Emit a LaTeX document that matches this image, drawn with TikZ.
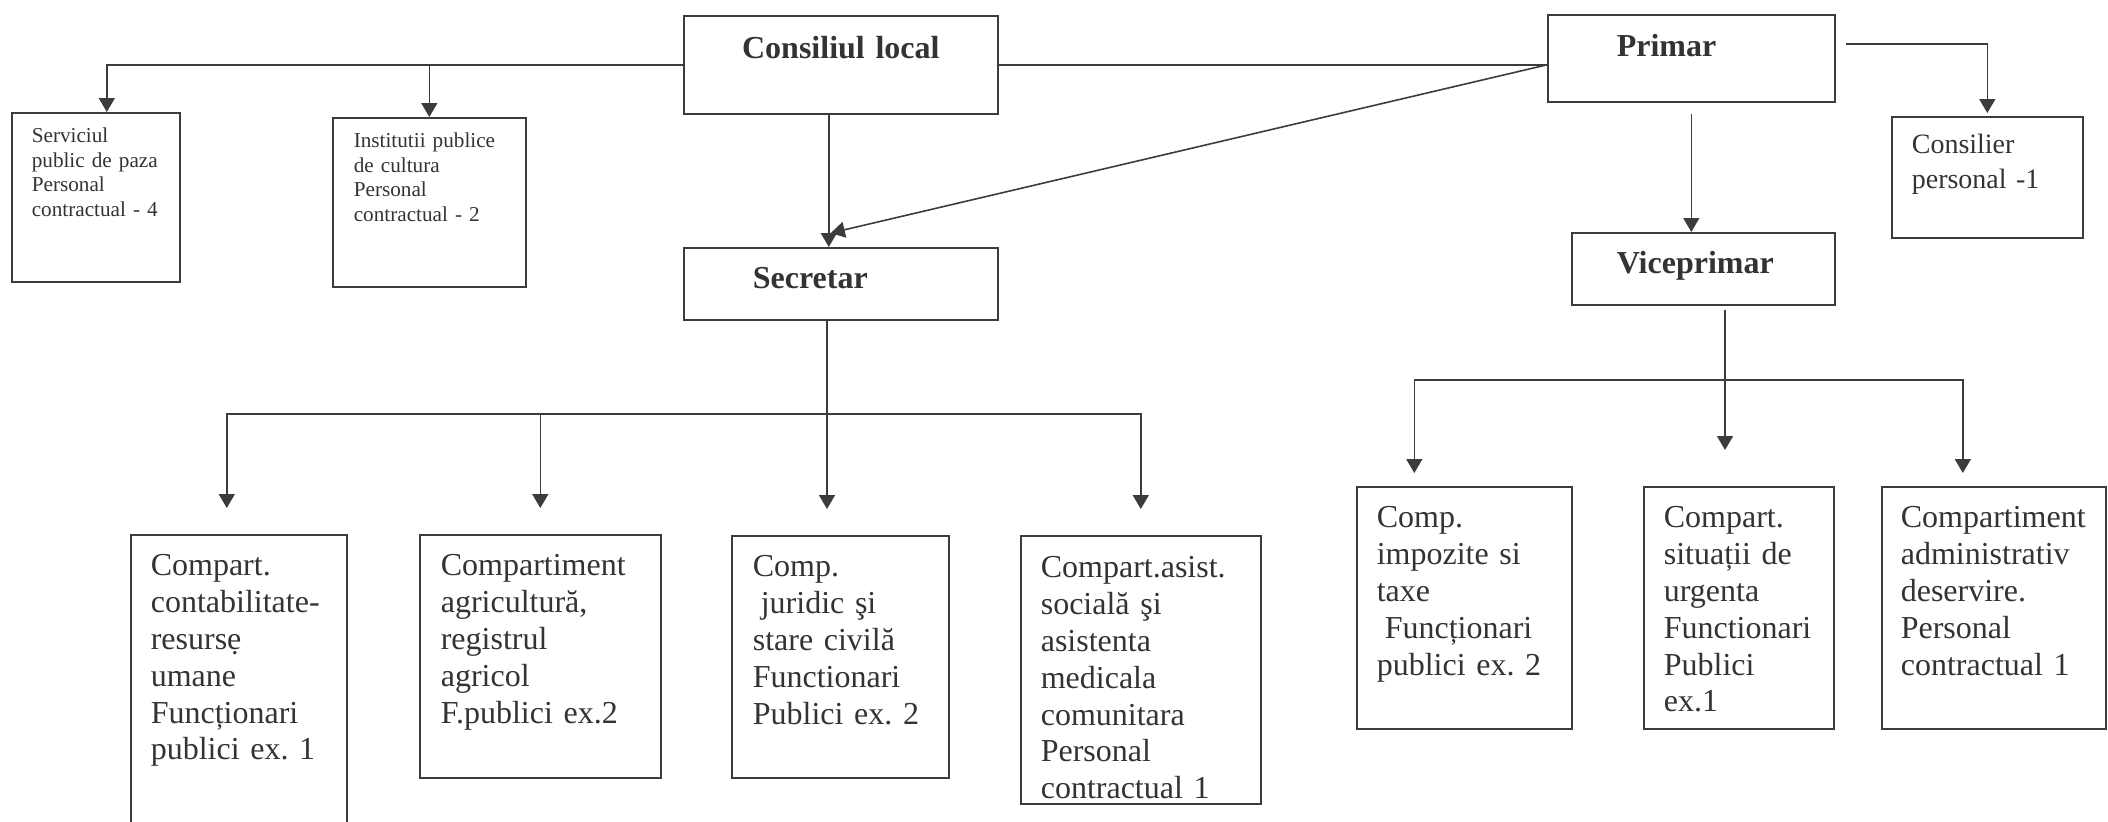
\documentclass[tikz,border=0pt]{standalone}
\usepackage{fontspec}
\setmainfont{Liberation Serif}
\usepackage{tikz}
\usetikzlibrary{arrows.meta}
\definecolor{linegray}{HTML}{3C3C3C}
\definecolor{textgray}{HTML}{333333}
\hyphenpenalty=10000
\exhyphenpenalty=10000
\frenchspacing

\begin{document}
\begin{tikzpicture}[
    x=0.5pt, y=-0.5pt,
    % boxes of the chart
    orgbox/.style={draw=linegray, line width=0.8pt, anchor=north west, align=left,
                   inner ysep=0pt, text=textgray},
    headbox/.style={orgbox, font=\bfseries\fontsize{16}{19}\selectfont},
    smallbox/.style={orgbox, font=\fontsize{10.6}{12.25}\selectfont},
    deptbox/.style={orgbox, font=\fontsize{16}{18.4}\selectfont},
    % connectors
    link/.style={draw=linegray, line width=0.8pt},
    arr/.style={link, -{Triangle[length=7pt, width=8pt]}}
    ]

    \useasboundingbox (0,0) rectangle (2108,821);
    \clip (0,0) rectangle (2108,821);

    % --- top level ---
    \node[headbox, align=center, inner xsep=5pt, text width=147pt,
          text height=21.5pt, text depth=27.5pt] (cons) at (683,15) {Consiliul local};
    \node[headbox, inner xsep=34.5pt, text width=74.5pt,
          text height=21pt, text depth=22.5pt] (prim) at (1547,14) {Primar};
    \node[headbox, inner xsep=34.5pt, text width=88pt,
          text height=20.5pt, text depth=15.5pt] (secr) at (683,247) {Secretar};
    \node[headbox, inner xsep=22.5pt, text width=86.5pt,
          text height=20.5pt, text depth=15.5pt] (vice) at (1571,232) {Viceprimar};

    \node[smallbox, inner xsep=10pt, text width=64pt,
          text height=15pt, text depth=69.5pt] (serv) at (11,112)
          {Serviciul\\public de paza\\Personal\\contractual - 4};
    \node[smallbox, inner xsep=10.5pt, text width=75.5pt,
          text height=15pt, text depth=69.5pt] (inst) at (332,117)
          {Institutii publice\\de cultura\\Personal\\contractual - 2};
    \node[orgbox, font=\fontsize{14}{17.5}\selectfont, inner xsep=10pt, text width=75.5pt,
          text height=18.5pt, text depth=42pt] (consil) at (1891,116)
          {Consilier\\personal -1};

    % --- compartments under the secretary ---
    \node[deptbox, inner xsep=10pt, text width=88pt,
          text height=20.5pt, text depth=142.5pt] (contab) at (130,534)
          {Compart.\\contabilitate-\\resursẹ\\umane\\Funcționari\\publici ex. 1};
    \node[deptbox, inner xsep=10.5pt, text width=99.5pt,
          text height=20.5pt, text depth=101pt] (agric) at (419,534)
          {Compartiment\\agricultură,\\registrul\\agricol\\F.publici ex.2};
    \node[deptbox, inner xsep=10.5pt, text width=87.5pt,
          text height=20.5pt, text depth=100.5pt] (jurid) at (731,535)
          {Comp.\\\hspace*{4pt}juridic şi\\stare civilă\\Functionari\\Publici ex. 2};
    \node[deptbox, inner xsep=10pt, text width=100pt,
          text height=21pt, text depth=113pt] (asist) at (1020,535)
          {Compart.asist.\\socială şi\\asistenta\\medicala\\comunitara\\Personal\\contractual 1};

    % --- compartments under the deputy mayor ---
    \node[deptbox, inner xsep=10pt, text width=87.5pt,
          text height=20.5pt, text depth=100.5pt] (impoz) at (1356,486)
          {Comp.\\impozite si\\taxe\\\hspace*{4pt}Funcționari\\publici ex. 2};
    \node[deptbox, inner xsep=10pt, text width=75pt,
          text height=20.5pt, text depth=100.5pt] (situ) at (1643,486)
          {Compart.\\situații de\\urgenta\\Functionari\\Publici\\ex.1};
    \node[deptbox, inner xsep=9.5pt, text width=93pt,
          text height=20.5pt, text depth=100.5pt] (admin) at (1881,486)
          {Compartiment\\administrativ\\deservire.\\Personal\\contractual 1};

    % --- connectors ---
    \draw[link] (cons.east) -- (cons.east -| prim.west);
    \draw[arr] (cons.west) -| ([xshift=5.5pt]serv.north);
    \draw[arr] (inst.north |- cons.west) -- (inst.north);
    \draw[arr] ([xshift=-6pt]cons.south) -- ([xshift=-6pt]secr.north);
    \draw[arr] (cons.east -| prim.west) -- ([shift={(-5pt,7pt)}]secr.north);

    \draw[arr, shorten >=1.5pt] ([shift={(5pt,7.25pt)}]prim.east) -| (consil.north);
    \draw[arr] ([yshift=-5.5pt]prim.south) -- (prim.south |- vice.north);

    \coordinate (sbus) at (827,414);
    \draw[arr, shorten >=13pt] (secr.south -| sbus) -- (sbus |- jurid.north);
    \draw[arr, shorten >=13pt] (sbus) -| ([xshift=-6pt]contab.north);
    \draw[arr, shorten >=13pt] (sbus) -| (agric.north);
    \draw[arr, shorten >=13pt] (sbus) -| (asist.north);

    \coordinate (vbus) at (1725,380);
    \draw[arr, shorten >=18pt] ([yshift=-2pt]vice.south -| vbus) -- (vbus |- situ.north);
    \draw[arr, shorten >=6.5pt] (vbus) -| ([xshift=-25pt]impoz.north);
    \draw[arr, shorten >=6.5pt] (vbus) -| ([xshift=-15.5pt]admin.north);
\end{tikzpicture}
\end{document}
